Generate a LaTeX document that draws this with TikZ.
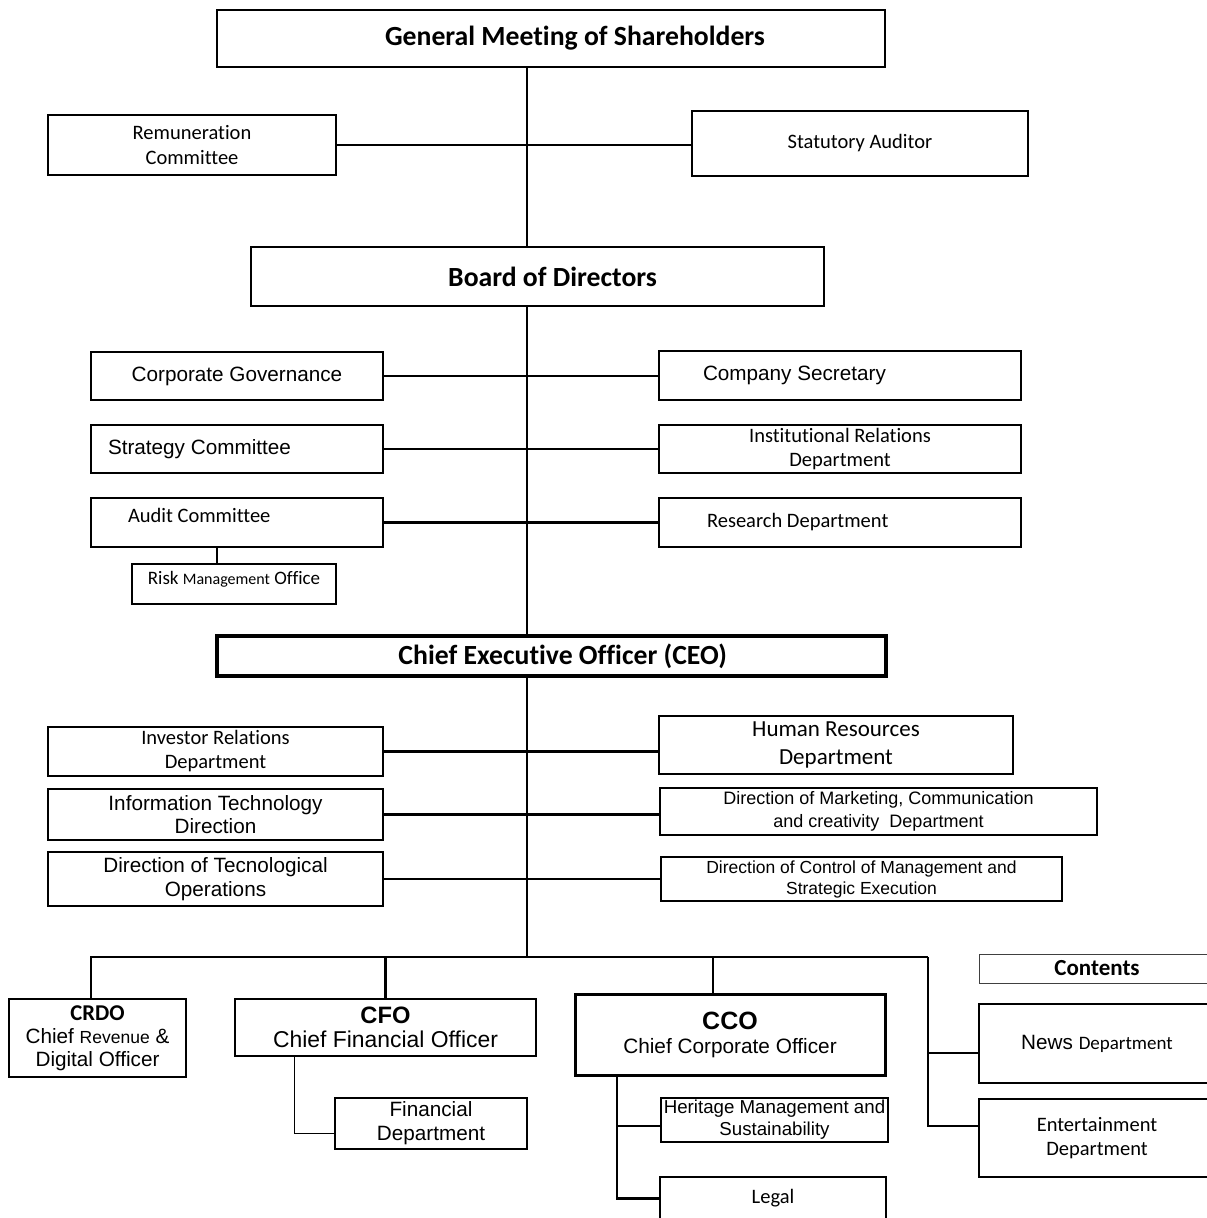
\documentclass[tikz,border=0pt]{standalone}
\usepackage{fontspec}
\setmainfont{Carlito}[Ligatures=NoCommon]
\newfontfamily\arialfnt{Liberation Sans}

\begin{document}
\begin{tikzpicture}[x=1pt,y=-1pt,line width=2.2pt,
                org box/.style={draw,rectangle,line width=1.8pt,inner sep=1pt,align=center},
                cal/.style={font=\fontsize{20.5}{24.5}\selectfont},
                ari/.style={font=\arialfnt\fontsize{20.7}{24}\selectfont},
                head/.style={font=\bfseries\fontsize{27.7}{32}\selectfont}]

  \useasboundingbox (0,0) rectangle (1207,1218);
  \clip (0,0) rectangle (1207,1218);

  \coordinate (spine) at (527,0);
  \coordinate (bus) at (527,957);
  \coordinate (rail) at (928,957);

  % shareholders and board
  \node[org box,head,minimum width=668pt,minimum height=57pt,text width=428pt,align=flush right] (gms) at (551,38.5) {General Meeting of Shareholders};
  \node[org box,cal,minimum width=288pt,minimum height=60pt] (rem) at (192,145) {Remuneration\\Committee};
  \node[org box,cal,line width=2pt,minimum width=336pt,minimum height=65pt] (sa) at (860,143.5) {Statutory Auditor};
  \node[org box,head,minimum width=573pt,minimum height=59pt,text width=239pt,align=flush right] (bod) at (537.5,276.5) {Board of Directors};

  \node[org box,ari,minimum width=292pt,minimum height=48pt] (cg) at (237,376) {Corporate Governance};
  \node[org box,ari,minimum width=362pt,minimum height=49pt,text width=274pt,align=flush left] (cs) at (840,375.5) {Company Secretary};
  \node[org box,ari,minimum width=292pt,minimum height=48pt,text width=258pt,align=flush left] (sc) at (237,449) {Strategy Committee};
  \node[org box,cal,minimum width=362pt,minimum height=48pt,font=\fontsize{20.5}{24}\selectfont] (inst) at (840,449) {Institutional Relations\\Department};
  \node[org box,cal,minimum width=292pt,minimum height=49pt,text width=218pt,align=flush left,text depth=15pt] (ac) at (237,522.5) {Audit Committee};
  \node[org box,cal,minimum width=362pt,minimum height=49pt,text width=266pt,align=flush left] (rd) at (840,522.5) {Research Department};
  \node[org box,minimum width=204pt,minimum height=40pt,text depth=12pt,font=\fontsize{19}{22}\selectfont] (rmo) at (234,584) {Risk {\fontsize{16}{19}\selectfont Management} Office};

  % executive
  \node[org box,head,line width=4.5pt,minimum width=669pt,minimum height=40pt,text width=351pt,align=flush right] (ceo) at (551.5,656) {Chief Executive Officer (CEO)};

  \node[org box,cal,minimum width=335pt,minimum height=49pt,font=\fontsize{20.5}{24}\selectfont] (inv) at (215.5,751.5) {Investor Relations\\Department};
  \node[org box,minimum width=354pt,minimum height=58pt,font=\fontsize{23}{28}\selectfont] (hr) at (836,745) {Human Resources\\Department};
  \node[org box,ari,minimum width=335pt,minimum height=51pt,font=\arialfnt\fontsize{20.7}{23}\selectfont] (itd) at (215.5,814.5) {Information Technology\\Direction};
  \node[org box,minimum width=437pt,minimum height=47pt,font=\arialfnt\fontsize{18}{23}\selectfont] (mkt) at (878.5,811.5) {Direction of Marketing, Communication\\and creativity\ \ Department};
  \node[org box,ari,minimum width=335pt,minimum height=54pt] (ops) at (215.5,879) {Direction of Tecnological\\Operations};
  \node[org box,minimum width=401pt,minimum height=44pt,font=\arialfnt\fontsize{17.5}{21}\selectfont] (ctl) at (861.5,879) {Direction of Control of Management and\\Strategic Execution};

  % chiefs
  \node[org box,ari,minimum width=177pt,minimum height=78pt,font=\arialfnt\fontsize{20.7}{23}\selectfont] (crdo) at (97.5,1038) {{\rmfamily\bfseries\fontsize{22.6}{27}\selectfont CRDO}\\Chief {\fontsize{17.5}{23}\selectfont Revenue} \&\\Digital Officer};
  \node[org box,ari,line width=2pt,minimum width=301pt,minimum height=57pt] (cfo) at (385.5,1027.5) {{\bfseries\fontsize{23.7}{28}\selectfont CFO}\\{\fontsize{22.9}{28}\selectfont Chief Financial Officer}};
  \node[org box,ari,line width=2.5pt,minimum width=192pt,minimum height=51pt] (fin) at (431,1123.5) {Financial\\Department};
  \node[org box,ari,line width=3pt,minimum width=310pt,minimum height=81pt] (cco) at (730,1034.5) {{\bfseries\fontsize{25}{30}\selectfont CCO}\\{\fontsize{20.8}{29}\selectfont Chief Corporate Officer}};
  \node[org box,minimum width=227pt,minimum height=44pt,font=\arialfnt\fontsize{18.7}{22}\selectfont] (her) at (774.5,1120) {Heritage Management and\\Sustainability};
  \node[org box,cal,minimum width=226pt,minimum height=43pt] (legal) at (773,1198.5) {Legal};

  \node[draw=black!75,line width=1pt,inner sep=1pt,minimum width=236pt,minimum height=29pt,font=\bfseries\fontsize{23}{27}\selectfont] (cont) at (1097,968.5) {Contents};
  \node[org box,minimum width=236pt,minimum height=79pt,font=\arialfnt\fontsize{20.7}{24}\selectfont] (news) at (1097,1043.5) {News {\rmfamily\fontsize{19}{23}\selectfont Department}};
  \node[org box,cal,minimum width=236pt,minimum height=78pt] (ent) at (1097,1138) {Entertainment\\Department};

  % connectors
  \draw (spine |- gms.south) -- (spine |- bod.north);
  \draw (rem.east) -- (rem.east -| sa.west);
  \draw (spine |- bod.south) -- (spine |- ceo.north);
  \draw (cg.east) -- (cg.east -| cs.west);
  \draw (sc.east) -- (sc.east -| inst.west);
  \draw (ac.east) -- (ac.east -| rd.west);
  \draw ([xshift=-17pt]rmo.north) -- ([xshift=-17pt]rmo.north |- ac.south);
  \draw (spine |- ceo.south) -- (bus);
  \draw (inv.east) -- (inv.east -| hr.west);
  \draw (itd.east) -- (itd.east -| mkt.west);
  \draw (ops.east) -- (ops.east -| ctl.west);
  \draw ([xshift=-6.5pt]crdo.north) |- (rail);
  \draw (rail) |- ([yshift=12pt]ent.west);
  \draw (rail |- news.west) ++(0,9.5) -- ([yshift=-9.5pt]news.west);
  \draw (cfo.north) -- (cfo.north |- bus);
  \draw ([xshift=-17pt]cco.north) -- ([xshift=-17pt]cco.north |- bus);
  \draw[line width=0.9pt] ([xshift=-91pt]cfo.south) |- ([yshift=-9.5pt]fin.west);
  \draw ([xshift=-113pt]cco.south) |- (legal.west);
  \draw ([xshift=-113pt]cco.south |- her.west) ++(0,6) -- ([yshift=-6pt]her.west);
\end{tikzpicture}
\end{document}
